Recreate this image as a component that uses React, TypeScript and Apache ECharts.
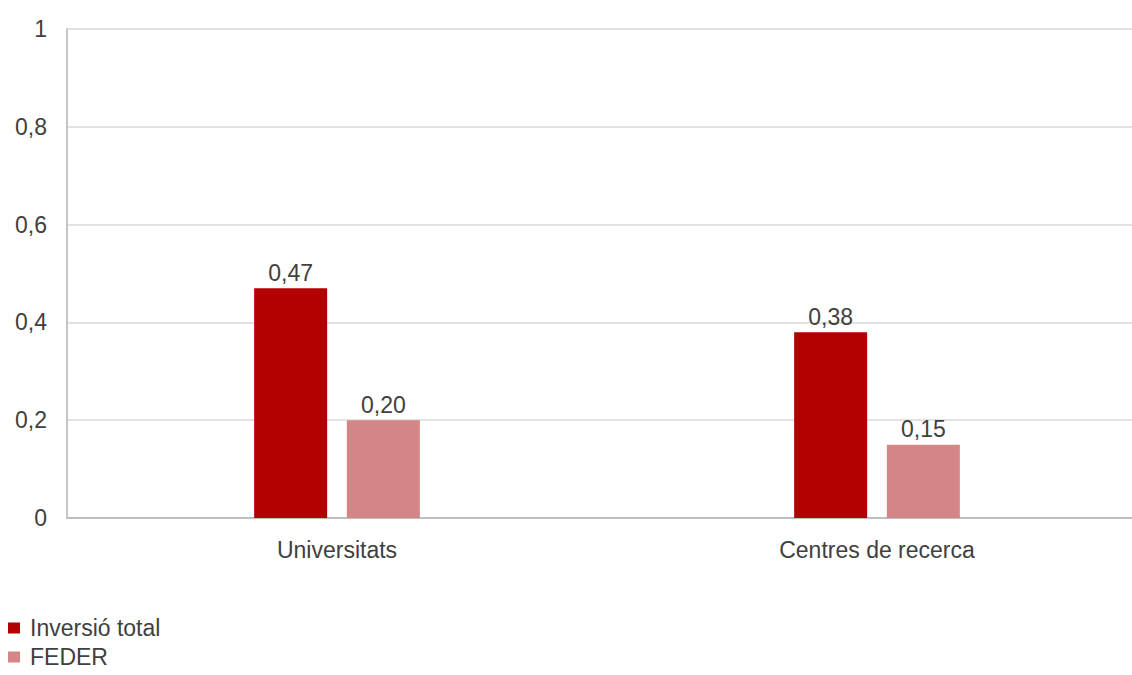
import React, { useEffect, useRef } from "react";
import * as echarts from "echarts";

const categories = ["Universitats", "Centres de recerca"];
const inversioTotal = [0.47, 0.38];
const feder = [0.2, 0.15];
const seriesNames = ["Inversió total", "FEDER"];

const fmt = (v: number, d: number) => v.toFixed(d).replace(".", ",");

export default function App() {
  const ref = useRef<HTMLDivElement>(null);
  useEffect(() => {
    if (!ref.current) return;
    const chart = echarts.init(ref.current, undefined, { renderer: "svg" });
    const font = "Arial, 'Liberation Sans', sans-serif";
    const fs = 23;
    chart.setOption({
      animation: false,
      backgroundColor: "#ffffff",
      textStyle: { fontFamily: font },
      grid: { left: 67, top: 29, right: 5, bottom: 157, containLabel: false },
      legend: {
        orient: "vertical",
        left: 8,
        top: 616,
        padding: 0,
        itemWidth: 12,
        itemHeight: 11,
        itemGap: 5,
        icon: "rect",
        textStyle: { fontSize: fs, color: "#404040", fontFamily: font, lineHeight: 24, padding: [0, 0, 0, 5] },
        data: seriesNames,
      },
      xAxis: {
        type: "category",
        data: categories,
        axisLine: { lineStyle: { color: "#b3b3b3", width: 1.5 } },
        axisTick: { show: false },
        axisLabel: { fontSize: fs, color: "#404040", margin: 20, fontFamily: font },
      },
      yAxis: {
        type: "value",
        min: 0,
        max: 1,
        interval: 0.2,
        axisLine: { show: true, lineStyle: { color: "#b3b3b3", width: 1.5 } },
        axisTick: { show: false },
        splitLine: { lineStyle: { color: "#d9d9d9", width: 1.5 } },
        axisLabel: {
          fontSize: fs,
          color: "#404040",
          margin: 20,
          fontFamily: font,
          formatter: (v: number) => (v === 0 || v === 1 ? String(v) : fmt(v, 1)),
        },
      },
      series: [
        {
          name: seriesNames[0],
          type: "bar",
          data: inversioTotal,
          barWidth: 73,
          barGap: "27%",
          itemStyle: { color: "#b30000" },
          label: {
            show: true,
            position: "top",
            distance: 4,
            fontSize: fs,
            color: "#404040",
            fontFamily: font,
            formatter: (p: any) => fmt(p.value, 2),
          },
        },
        {
          name: seriesNames[1],
          type: "bar",
          data: feder,
          barWidth: 73,
          itemStyle: { color: "#d48585" },
          label: {
            show: true,
            position: "top",
            distance: 4,
            fontSize: fs,
            color: "#404040",
            fontFamily: font,
            formatter: (p: any) => fmt(p.value, 2),
          },
        },
      ],
    });
    return () => chart.dispose();
  }, []);
  return (
    <div style={{ width: 1132, height: 675, position: "absolute", left: 0, top: 0, overflow: "hidden", background: "#fff" }}>
      <div ref={ref} style={{ width: 1152, height: 675 }} />
    </div>
  );
}
